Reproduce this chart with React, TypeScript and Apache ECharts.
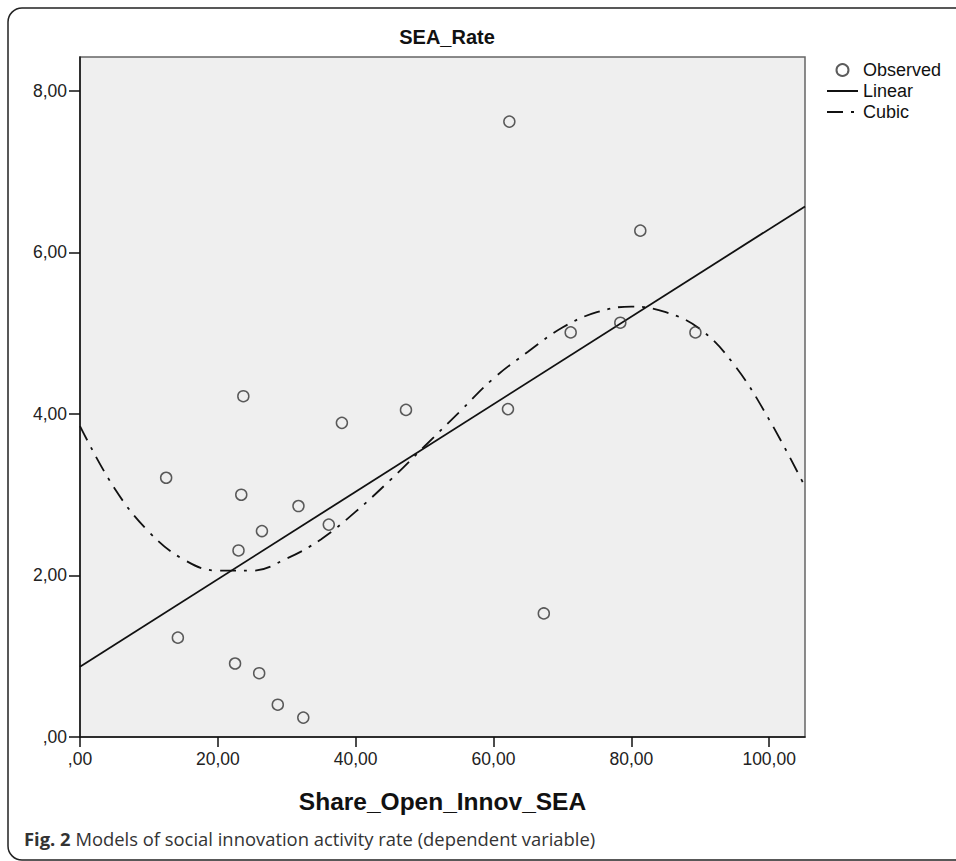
import React, { useEffect, useRef } from "react";
import * as echarts from "echarts";

const titleText = "SEA_Rate";
const xAxisName = "Share_Open_Innov_SEA";
const caption = "Models of social innovation activity rate (dependent variable)";
const legendNames = ["Observed", "Linear", "Cubic"];
const xTicks = [0, 20, 40, 60, 80, 100];
const yTicks = [0, 2, 4, 6, 8];

const obsX = [14.2, 12.5, 23.7, 23.4, 23.0, 22.5, 26.0, 26.4, 28.7, 31.7, 32.4, 36.1, 38.0, 47.3, 62.1, 62.3, 67.3, 71.2, 78.4, 81.3, 89.3];
const obsY = [1.23, 3.21, 4.22, 3.0, 2.31, 0.91, 0.79, 2.55, 0.4, 2.86, 0.24, 2.63, 3.89, 4.05, 4.06, 7.62, 1.53, 5.01, 5.13, 6.27, 5.01];

const linX = [0, 105.2];
const linY = [0.87, 6.57];

const cubX = [0, 5, 10, 15, 20, 25, 30, 35, 40, 45, 50, 55, 60, 65, 70, 75, 80, 85, 90, 95, 100, 105.2];
const cubY = [3.85, 3.08, 2.54, 2.2, 2.06, 2.06, 2.21, 2.45, 2.79, 3.18, 3.6, 4.02, 4.44, 4.77, 5.07, 5.26, 5.33, 5.26, 5.05, 4.6, 3.93, 3.1];

const X_MAX = 105.2;
const Y_MAX = 8.42;

const fmt = (v: number) => (v === 0 ? ",00" : v.toFixed(2).replace(".", ","));

export default function App() {
  const ref = useRef<HTMLDivElement>(null);
  useEffect(() => {
    if (!ref.current) return;
    const chart = echarts.init(ref.current, null, { renderer: "svg" });
    const font = "'Liberation Sans', Arial, sans-serif";
    const capFont = "'Open Sans', 'Noto Sans', sans-serif";
    const hidden = { color: "rgba(0,0,0,0)", borderColor: "rgba(0,0,0,0)", borderWidth: 0 };
    chart.setOption({
      animation: false,
      backgroundColor: "#ffffff",
      title: {
        text: titleText,
        left: 442,
        textAlign: "center",
        top: 22,
        textStyle: { fontFamily: font, fontWeight: "bold", fontSize: 20, color: "#111" },
      },
      legend: {
        orient: "vertical",
        left: 826,
        top: 61,
        padding: 0,
        itemWidth: 31,
        itemHeight: 12,
        itemGap: 3,
        data: [
          { name: legendNames[0] },
          { name: legendNames[1], itemStyle: hidden },
          { name: legendNames[2], itemStyle: hidden },
        ],
        textStyle: { fontFamily: font, fontSize: 18, color: "#111", lineHeight: 18 },
      },
      grid: {
        left: 80,
        right: 151,
        top: 57,
        bottom: 124,
        show: true,
        backgroundColor: "#efefef",
        borderColor: "#666",
        borderWidth: 1.5,
      },
      xAxis: {
        type: "value",
        min: 0,
        max: X_MAX,
        name: xAxisName,
        nameLocation: "middle",
        nameGap: 52,
        nameTextStyle: { fontFamily: font, fontWeight: "bold", fontSize: 24.5, color: "#111" },
        axisLine: { show: true, lineStyle: { color: "#111", width: 1.5 } },
        axisTick: { show: true, length: 10, customValues: xTicks, lineStyle: { color: "#111", width: 1.5 } },
        axisLabel: { customValues: xTicks, formatter: fmt, margin: 13, fontFamily: font, fontSize: 17.5, color: "#222" },
        splitLine: { show: false },
      },
      yAxis: {
        type: "value",
        min: 0,
        max: Y_MAX,
        axisLine: { show: true, lineStyle: { color: "#111", width: 1.5 } },
        axisTick: { show: true, length: 11, customValues: yTicks, lineStyle: { color: "#111", width: 1.5 } },
        axisLabel: { customValues: yTicks, formatter: fmt, margin: 13, fontFamily: font, fontSize: 17.5, color: "#222" },
        splitLine: { show: false },
      },
      series: [
        {
          name: legendNames[0],
          type: "scatter",
          symbol: "circle",
          symbolSize: 11,
          itemStyle: { color: "rgba(0,0,0,0)", borderColor: "#333", borderWidth: 1.5 },
          data: obsX.map((x, i) => [x, obsY[i]]),
          z: 5,
        },
        {
          name: legendNames[1],
          type: "line",
          symbol: "none",
          showSymbol: false,
          lineStyle: { color: "#111", width: 1.8 },
          itemStyle: { color: "#111" },
          data: linX.map((x, i) => [x, linY[i]]),
        },
        {
          name: legendNames[2],
          type: "line",
          symbol: "none",
          showSymbol: false,
          smooth: 0.4,
          lineStyle: { color: "#111", width: 1.8, type: [16, 8, 3, 8] },
          itemStyle: { color: "#111" },
          data: cubX.map((x, i) => [x, cubY[i]]),
        },
      ],
      graphic: [
        {
          type: "rect",
          shape: { x: 8, y: 8, width: 1000, height: 852, r: 14 },
          style: { fill: "none", stroke: "#222", lineWidth: 1.5 },
          silent: true,
          z: -10,
        },
        {
          type: "text",
          left: 24,
          top: 829,
          style: {
            text: "{b|Fig. 2} " + caption,
            fontFamily: capFont,
            fontSize: 18.4,
            fill: "#333",
            rich: { b: { fontWeight: "bold", fontSize: 18.4, fontFamily: capFont, color: "#333" } },
          },
        },
      ],
    });
    return () => chart.dispose();
  }, []);
  return <div ref={ref} style={{ position: "fixed", left: 0, top: 0, width: 956, height: 861 }} />;
}
